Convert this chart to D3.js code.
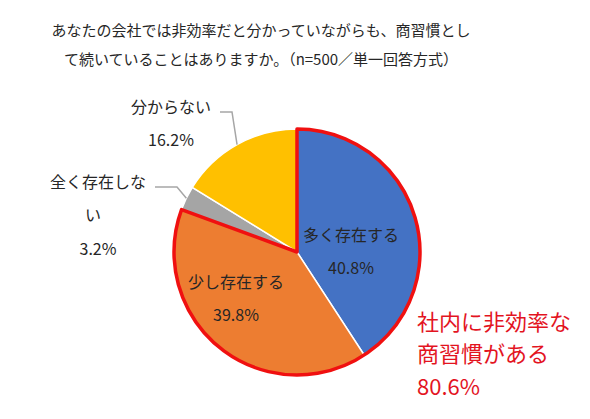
<!DOCTYPE html>
<meta charset="utf-8">
<style>
    body { margin: 0; background: #fff; }
    text { font-family: "Noto Sans CJK JP", "Noto Sans", sans-serif; fill: #262626; }
    .title { font-size: 15px; text-anchor: middle; }
    .lbl { font-size: 16px; text-anchor: middle; }
    .note { font-size: 22px; fill: #e3141f; }
</style>
<svg width="590" height="419"></svg>
<script src="https://cdn.jsdelivr.net/npm/d3@7"></script>
<script>

    var categories = ["多く存在する", "少し存在する", "全く存在しない", "分からない"];
    var values = [40.8, 39.8, 3.2, 16.2];
    var colors = ["#4472c4", "#ed7d31", "#a5a5a5", "#ffc000"];
    var titleLines = ["あなたの会社では非効率だと分かっていながらも、商習慣とし",
        "て続いていることはありますか。（n=500／単一回答方式）"];
    var noteLines = ["社内に非効率な", "商習慣がある", "80.6%"];

    // label layout, offsets from the pie centre
    var labelLines = [["多く存在する"], ["少し存在する"], ["全く存在しな", "い"], ["分からない"]];
    var labelPos = [[54, -17], [-61, 30], [-199, -70], [-126, -145]];
    var elbows = [null, null, [-120, -65, -142], [-65, -140, -77]];

    var width = 590,
        height = 419,
        cx = 297,
        cy = 252,
        radius = 123;

    var svg = d3.select("svg");

    svg.selectAll(".title")
        .data(titleLines)
        .enter().append("text")
        .attr("class", "title")
        .attr("x", 261)
        .attr("y", function(d, i) { return 36 + i * 29; })
        .text(function(d) { return d; });

    var data = categories.map(function(c, i) { return {name: c, value: values[i]}; });

    var pie = d3.pie()
        .sort(null)
        .value(function(d) { return d.value; });

    var arc = d3.arc()
        .outerRadius(radius)
        .innerRadius(0);

    var g = svg.append("g")
        .attr("transform", "translate(" + cx + "," + cy + ")");

    var arcs = pie(data);

    g.selectAll("path.slice")
        .data(arcs)
        .enter().append("path")
        .attr("class", "slice")
        .attr("d", arc)
        .attr("fill", function(d, i) { return colors[i]; })
        .attr("stroke", "#fff")
        .attr("stroke-width", 1.5);

    // red outline round the two "exists" slices
    var total = d3.sum(values);
    g.append("path")
        .attr("d", arc({startAngle: 0, endAngle: 2 * Math.PI * (values[0] + values[1]) / total}))
        .attr("fill", "none")
        .attr("stroke", "#f01010")
        .attr("stroke-width", 3.5)
        .attr("stroke-linejoin", "round");

    // leader lines for the outside labels
    arcs.forEach(function(d, i) {
        if (!elbows[i]) return;
        var a = (d.startAngle + d.endAngle) / 2;
        var p0 = [Math.sin(a) * radius, -Math.cos(a) * radius];
        var e = elbows[i];
        g.append("polyline")
            .attr("points", [p0, [e[0], e[1]], [e[2], e[1]]].map(function(p) { return p.join(","); }).join(" "))
            .attr("fill", "none")
            .attr("stroke", "#a6a6a6")
            .attr("stroke-width", 1.5);
    });

    arcs.forEach(function(d, i) {
        var lines = labelLines[i].concat([values[i].toFixed(1) + "%"]);
        var lg = g.append("g")
            .attr("transform", "translate(" + labelPos[i][0] + "," + labelPos[i][1] + ")");
        lg.selectAll("text")
            .data(lines)
            .enter().append("text")
            .attr("class", "lbl")
            .attr("x", function(t, j) { return (t === "い") ? -5 : 0; })
            .attr("y", function(t, j) { return j * 33.5; })
            .attr("dy", "0.35em")
            .text(function(t) { return t; });
    });

    svg.selectAll(".note")
        .data(noteLines)
        .enter().append("text")
        .attr("class", "note")
        .attr("x", 417)
        .attr("y", function(d, i) { return 322 + i * 32.5; })
        .attr("dy", "0.35em")
        .text(function(d) { return d; });

</script>
